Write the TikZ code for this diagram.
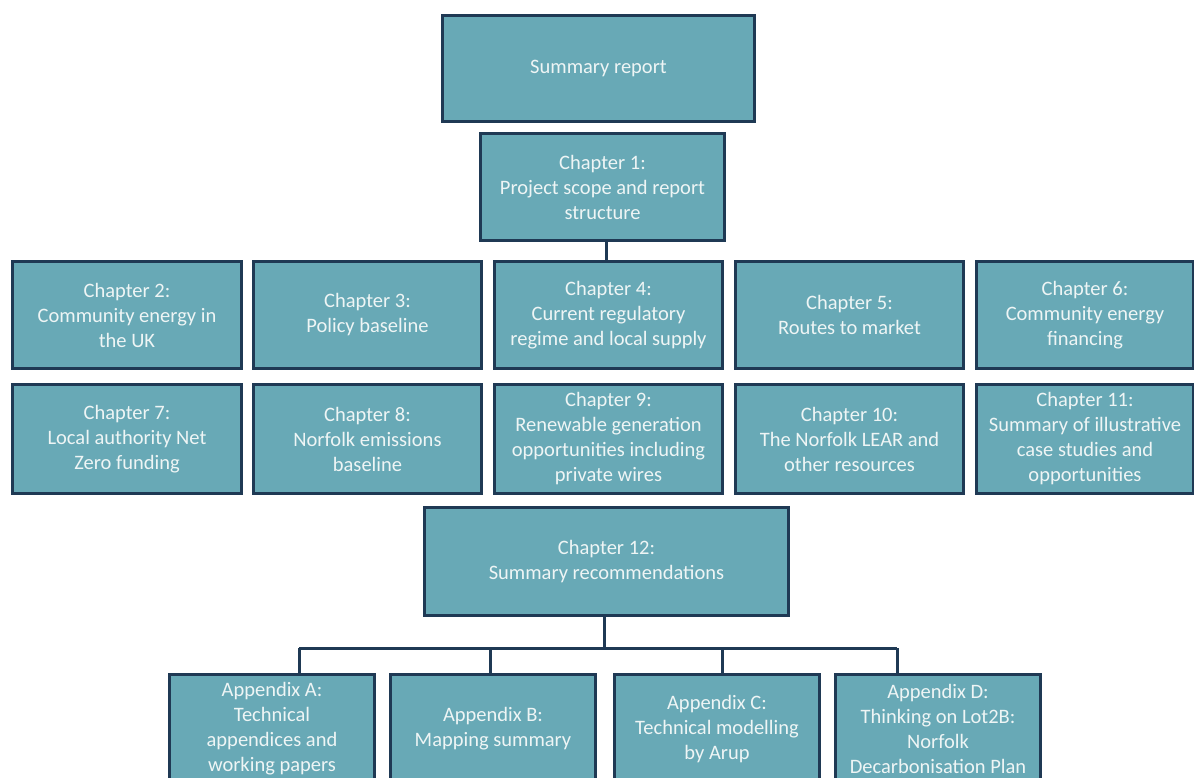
\documentclass[tikz,border=0pt]{standalone}
\usepackage{fontspec}
\setmainfont{Carlito}
\definecolor{boxfill}{HTML}{68A9B6}
\definecolor{boxline}{HTML}{1F3954}
\definecolor{boxtext}{HTML}{EEF5F5}
\begin{document}
\begin{tikzpicture}[x=1pt,y=-1pt,
  box/.style={draw=boxline, fill=boxfill, line width=3.6pt, text=boxtext,
    align=center, inner sep=2pt, font=\fontsize{20.5}{25}\selectfont},
  conn/.style={draw=boxline, line width=3pt}]
\useasboundingbox (0,0) rectangle (1194,778);
\clip (0,0) rectangle (1194,778);
% top
\node[box, minimum width=312pt, minimum height=106pt] (sum) at (598.5,68.5) {Summary report};
\node[box, minimum width=244pt, minimum height=107pt] (ch1) at (602.5,187) {Chapter 1:\\Project scope and report\\structure};
% row 1
\node[box, minimum width=229pt, minimum height=107pt] (ch2) at (127,315) {Chapter 2:\\Community energy in\\the UK};
\node[box, minimum width=228pt, minimum height=107pt] (ch3) at (367.5,315) {Chapter 3:\\Policy baseline};
\node[box, minimum width=228pt, minimum height=107pt] (ch4) at (608.5,315) {Chapter 4:\\Current regulatory\\regime and local supply};
\node[box, minimum width=228pt, minimum height=107pt] (ch5) at (849.5,315) {Chapter 5:\\Routes to market};
\node[box, minimum width=217pt, minimum height=107pt] (ch6) at (1085,315) {Chapter 6:\\Community energy\\financing};
% row 2
\node[box, minimum width=229pt, minimum height=109pt] (ch7) at (127,439) {Chapter 7:\\Local authority Net\\Zero funding};
\node[box, minimum width=228pt, minimum height=109pt] (ch8) at (367.5,439) {Chapter 8:\\Norfolk emissions\\baseline};
\node[box, minimum width=228pt, minimum height=109pt] (ch9) at (608.5,439) {Chapter 9:\\Renewable generation\\opportunities including\\private wires};
\node[box, minimum width=228pt, minimum height=109pt] (ch10) at (849.5,439) {Chapter 10:\\The Norfolk LEAR and\\other resources};
\node[box, minimum width=217pt, minimum height=109pt] (ch11) at (1085,439) {Chapter 11:\\Summary of illustrative\\case studies and\\opportunities};
% chapter 12
\node[box, minimum width=364pt, minimum height=108pt] (ch12) at (606.5,561.5) {Chapter 12:\\Summary recommendations};
% appendices
\node[box, minimum width=205pt, minimum height=109pt] (apA) at (272,729) {Appendix A:\\Technical\\appendices and\\working papers};
\node[box, minimum width=205pt, minimum height=109pt] (apB) at (493,729) {Appendix B:\\Mapping summary};
\node[box, minimum width=205pt, minimum height=109pt] (apC) at (717,729) {Appendix C:\\Technical modelling\\by Arup};
\node[box, minimum width=205pt, minimum height=109pt] (apD) at (938,729) {Appendix D:\\Thinking on Lot2B:\\Norfolk\\Decarbonisation Plan};
% connectors
\draw[conn] (ch1.south) ++(4,0) coordinate (c1) -- (c1 |- ch4.north);
\coordinate (bus) at (604,648);
\coordinate (jA) at (299,648);
\coordinate (jB) at (490,648);
\coordinate (jC) at (722,648);
\coordinate (jD) at (897,648);
\draw[conn] (ch12.south -| bus) -- (bus);
\draw[conn] (jA) -- (jD);
\draw[conn] (jA) -- (jA |- apA.north);
\draw[conn] (jB) -- (jB |- apB.north);
\draw[conn] (jC) -- (jC |- apC.north);
\draw[conn] (jD) -- (jD |- apD.north);
\end{tikzpicture}
\end{document}
